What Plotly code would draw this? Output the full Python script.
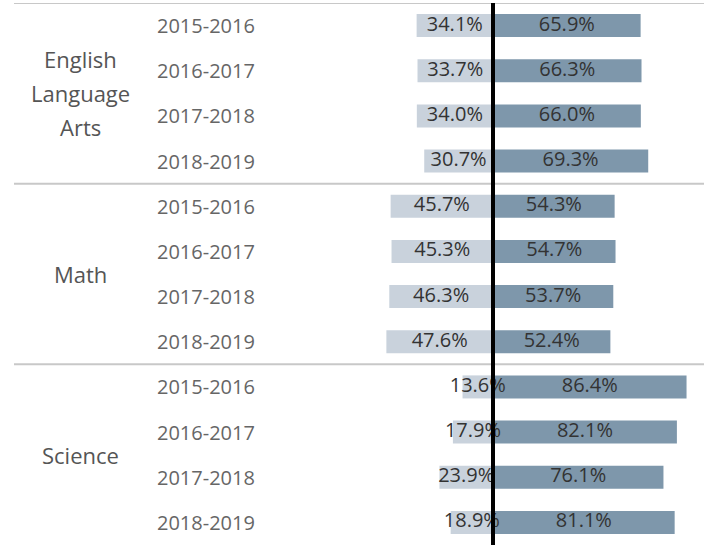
import plotly.graph_objects as go

subjects = ["English Language Arts", "Math", "Science"]
years = ["2015-2016", "2016-2017", "2017-2018", "2018-2019"]
left_vals = [34.1, 33.7, 34.0, 30.7, 45.7, 45.3, 46.3, 47.6, 13.6, 17.9, 23.9, 18.9]
right_vals = [65.9, 66.3, 66.0, 69.3, 54.3, 54.7, 53.7, 52.4, 86.4, 82.1, 76.1, 81.1]

n = len(left_vals)
rows = list(range(n))
W, H = 704, 545
center_px = 493
px_per_pct = 2.24
xmin = -center_px / px_per_pct
xmax = (W - center_px) / px_per_pct

FONT = "Open Sans"
light = "#c9d2dc"
dark = "#7e97ab"

fig = go.Figure()
fig.add_trace(go.Bar(
    y=rows, x=[-v for v in left_vals], orientation="h", width=0.51,
    marker=dict(color=light, line=dict(width=0)), hoverinfo="skip"))
fig.add_trace(go.Bar(
    y=rows, x=right_vals, orientation="h", width=0.51,
    marker=dict(color=dark, line=dict(width=0)), hoverinfo="skip"))
fig.add_trace(go.Scatter(
    y=rows, x=[-v / 2 for v in left_vals], mode="text",
    text=[f"{v:.1f}%" for v in left_vals],
    textfont=dict(family=FONT, size=20, color="#333333"), hoverinfo="skip"))
fig.add_trace(go.Scatter(
    y=rows, x=[v / 2 for v in right_vals], mode="text",
    text=[f"{v:.1f}%" for v in right_vals],
    textfont=dict(family=FONT, size=20, color="#333333"), hoverinfo="skip"))

annotations = []
for i in rows:
    annotations.append(dict(
        x=206 / W, xref="paper", y=i, yref="y", text=years[i % 4],
        showarrow=False, xanchor="center", yanchor="middle",
        font=dict(family=FONT, size=20, color="#666666")))

sub_font = dict(family=FONT, size=22, color="#555555")
sx = 80 / W
annotations += [
    dict(x=sx, xref="paper", y=1.5, yref="y", text="English", yshift=34,
         showarrow=False, xanchor="center", font=sub_font),
    dict(x=sx, xref="paper", y=1.5, yref="y", text="Language", yshift=0,
         showarrow=False, xanchor="center", font=sub_font),
    dict(x=sx, xref="paper", y=1.5, yref="y", text="Arts", yshift=-34,
         showarrow=False, xanchor="center", font=sub_font),
    dict(x=sx, xref="paper", y=5.5, yref="y", text=subjects[1],
         showarrow=False, xanchor="center", font=sub_font),
    dict(x=sx, xref="paper", y=9.5, yref="y", text=subjects[2],
         showarrow=False, xanchor="center", font=sub_font),
]

shapes = []
for yb in [-0.5, 3.5, 7.5]:
    shapes.append(dict(type="line", xref="paper", x0=14 / W, x1=1, yref="y",
                       y0=yb, y1=yb, line=dict(color="#c8c8c8", width=2),
                       layer="below"))
shapes.append(dict(type="line", xref="x", x0=0, x1=0, yref="paper", y0=0, y1=1,
                   line=dict(color="#000000", width=4), layer="above"))

fig.update_layout(
    width=W, height=H, margin=dict(l=0, r=0, t=3, b=0),
    paper_bgcolor="white", plot_bgcolor="white", showlegend=False,
    barmode="overlay",
    xaxis=dict(range=[xmin, xmax], visible=False, fixedrange=True),
    yaxis=dict(range=[n - 0.5, -0.5], visible=False, fixedrange=True),
    annotations=annotations, shapes=shapes,
)
fig.write_html("out.html", config={"displayModeBar": False},
               post_script="document.body.style.margin='0';document.body.style.overflow='hidden';")
